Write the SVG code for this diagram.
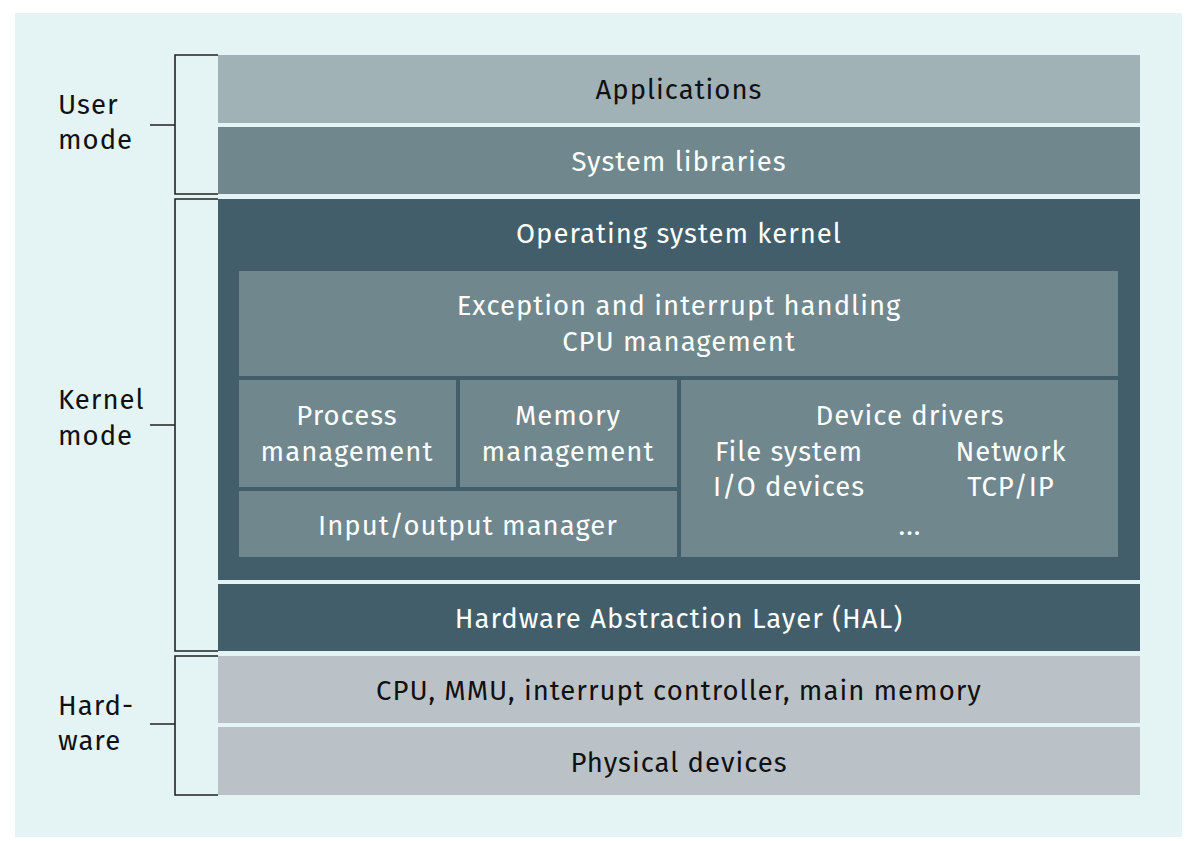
<svg xmlns="http://www.w3.org/2000/svg" width="1198" height="841" viewBox="0 0 1198 841">
<style>
text{font-family:"Fira Sans","Open Sans","Noto Sans",sans-serif;font-size:27.5px;letter-spacing:1px;}
.w{fill:#ffffff;text-anchor:middle;}
.k{fill:#111111;text-anchor:middle;}
.l{fill:#111111;text-anchor:start;}
.br{fill:none;stroke:#222222;stroke-width:1.6;}
</style>
<rect width="1198" height="841" fill="#ffffff"/>
<rect x="15" y="13" width="1167" height="824" fill="#e4f3f4"/>
<g id="connectors">
<path class="br" d="M218 55H175V194H218M150 125H175"/>
<path class="br" d="M218 199H175V651H218M150 425H175"/>
<path class="br" d="M218 656H175V795H218M150 724H175"/>
</g>
<g id="label-user"><text class="l" x="58" y="114">User</text><text class="l" x="58" y="149">mode</text></g>
<g id="label-kernel"><text class="l" x="58" y="409">Kernel</text><text class="l" x="58" y="445">mode</text></g>
<g id="label-hardware"><text class="l" x="58" y="715">Hard-</text><text class="l" x="58" y="750">ware</text></g>
<g id="applications"><rect x="218" y="55" width="922" height="68" fill="#a1b2b6"/><text class="k" x="679" y="99">Applications</text></g>
<g id="system-libraries"><rect x="218" y="127" width="922" height="67" fill="#6f878d"/><text class="w" x="679" y="171">System libraries</text></g>
<g id="kernel"><rect x="218" y="199" width="922" height="381" fill="#425e6a"/><text class="w" x="679" y="243">Operating system kernel</text></g>
<g id="exception"><rect x="239" y="271" width="879" height="105" fill="#6f878d"/><text class="w" x="679" y="315">Exception and interrupt handling</text><text class="w" x="679" y="351">CPU management</text></g>
<g id="process"><rect x="239" y="380" width="217" height="107" fill="#6f878d"/><text class="w" x="347" y="425">Process</text><text class="w" x="347" y="461">management</text></g>
<g id="memory"><rect x="460" y="380" width="217" height="107" fill="#6f878d"/><text class="w" x="568" y="425">Memory</text><text class="w" x="568" y="461">management</text></g>
<g id="io-manager"><rect x="239" y="491" width="438" height="66" fill="#6f878d"/><text class="w" x="468" y="535">Input/output manager</text></g>
<g id="device-drivers"><rect x="681" y="380" width="437" height="177" fill="#6f878d"/><text class="w" x="910" y="425">Device drivers</text><text class="w" x="789" y="461">File system</text><text class="w" x="1011" y="461">Network</text><text class="w" x="789" y="496">I/O devices</text><text class="w" x="1011" y="496">TCP/IP</text><text class="w" x="910" y="535">...</text></g>
<g id="hal"><rect x="218" y="584" width="922" height="67" fill="#425e6a"/><text class="w" x="679" y="628">Hardware Abstraction Layer (HAL)</text></g>
<g id="cpu"><rect x="218" y="656" width="922" height="67" fill="#bbc2c7"/><text class="k" x="679" y="700">CPU, MMU, interrupt controller, main memory</text></g>
<g id="physical"><rect x="218" y="727" width="922" height="68" fill="#bbc2c7"/><text class="k" x="679" y="772">Physical devices</text></g>
</svg>
